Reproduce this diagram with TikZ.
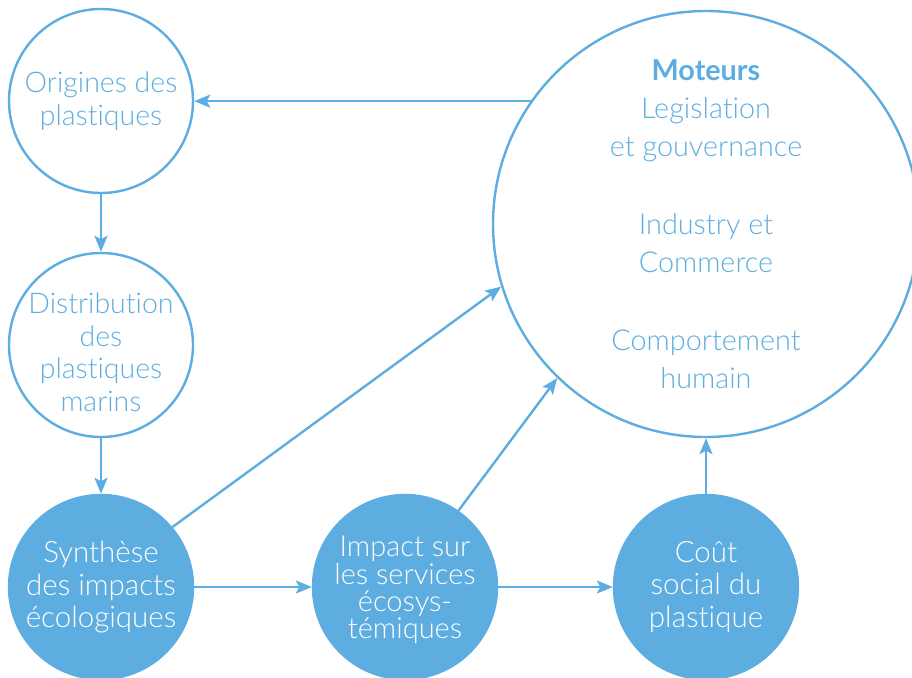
\documentclass[tikz,border=0pt]{standalone}
\usepackage{fontspec}
\setmainfont{Lato}[UprightFont=* Light, BoldFont=* Bold, Ligatures=NoCommon]
\usetikzlibrary{arrows.meta}
\definecolor{cblue}{RGB}{93,173,224}
\tikzset{
  circ/.style={circle, draw=cblue, line width=2.4pt, inner sep=0pt, minimum size=184pt, align=center, text=cblue,
    font=\fontsize{28.5pt}{32.5pt}\selectfont},
  filledcirc/.style={circ, fill=cblue, text=white, font=\fontsize{29.5pt}{32.5pt}\selectfont},
  lbl/.style={inner sep=0pt, align=center, text=cblue, font=\fontsize{28.5pt}{32.5pt}\selectfont},
  arr/.style={draw=cblue, line width=2.4pt, -{Stealth[length=16pt, width=13pt, inset=3.5pt]}}
}
\begin{document}
\begin{tikzpicture}[x=1pt, y=-1pt]
\useasboundingbox (0,0) rectangle (912,677);
\begin{scope}
\clip (0,0) rectangle (912,677);
\node[circ] (orig) at (101,101) {Origines des\\plastiques};
\node[circ] (dist) at (101,345) {};
\node[lbl] (disttext) at (101,352) {Distribution\\des\\plastiques\\marins};
\node[filledcirc] (synth) at (101,587) {Synthèse\\des impacts\\écologiques};
\node[filledcirc] (imp) at (405,587) {};
\node[lbl, text=white, font=\fontsize{29pt}{27.3pt}\selectfont] (imptext) at (405,590) {Impact sur\\les services\\écosys-\\témiques};
\node[filledcirc] (cout) at (706,587) {Coût\\social du\\plastique};
\node[circ, minimum size=426pt, font=\fontsize{28.8pt}{38pt}\selectfont] (mot) at (706,224)
  {\textbf{Moteurs}\\Legislation\\et gouvernance\\[40pt]Industry et\\Commerce\\[40pt]Comportement\\humain};
\end{scope}
\draw[arr] (mot.145.1) -- (orig.east |- mot.145.1);
\draw[arr] (orig.south) -- (dist.north);
\draw[arr] (dist.south) -- (synth.north);
\draw[arr] (synth.east) -- (imp.west);
\draw[arr] (imp.east) -- (cout.west);
\draw[arr] (cout.north) -- (mot.south);
\draw[arr] (synth.40.7) -- (mot.197.2);
\draw[arr] (imp.55.5) -- (mot.226.5);
\end{tikzpicture}
\end{document}
